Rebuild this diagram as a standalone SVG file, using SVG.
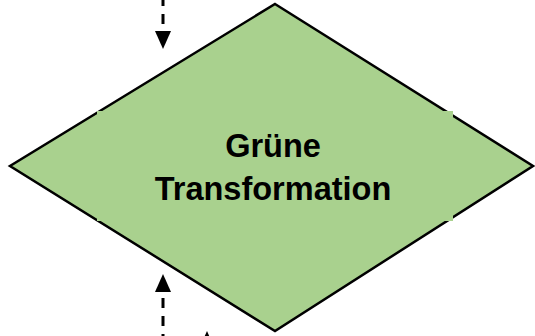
<svg xmlns="http://www.w3.org/2000/svg" width="535" height="336" viewBox="0 0 535 336">
  <style>
    .shape { fill: #A9D18E; stroke: #000; stroke-width: 2.5; stroke-linejoin: miter; }
    .pad { fill: #A9D18E; stroke: none; }
    .label { font-family: "Liberation Sans", Arial, sans-serif; font-weight: bold; font-size: 32.5px; fill: #000; text-anchor: middle; }
    .conn { fill: none; stroke: #000; stroke-width: 3; stroke-dasharray: 10 8; }
  </style>
  <defs>
    <marker id="head" viewBox="0 0 18 16" refX="0" refY="8" markerWidth="18" markerHeight="16" markerUnits="userSpaceOnUse" orient="auto">
      <path d="M0,0 L18,8 L0,16 z" fill="#000"/>
    </marker>
  </defs>
  <g id="node-gruene-transformation">
    <polygon class="shape" points="275,4 533,166 275,331 10,166"/>
    <rect class="pad" x="97" y="111" width="356" height="110"/>
    <text class="label" x="273" y="157">Grüne</text>
    <text class="label" x="273" y="200">Transformation</text>
  </g>
  <g id="connectors">
    <path class="conn" d="M163,-5 L163,31" stroke-dashoffset="-1" marker-end="url(#head)"/>
    <path class="conn" d="M163,340 L163,292" stroke-dashoffset="4" marker-end="url(#head)"/>
    <path class="conn" d="M207,380 L207,349" marker-end="url(#head)"/>
  </g>
</svg>
